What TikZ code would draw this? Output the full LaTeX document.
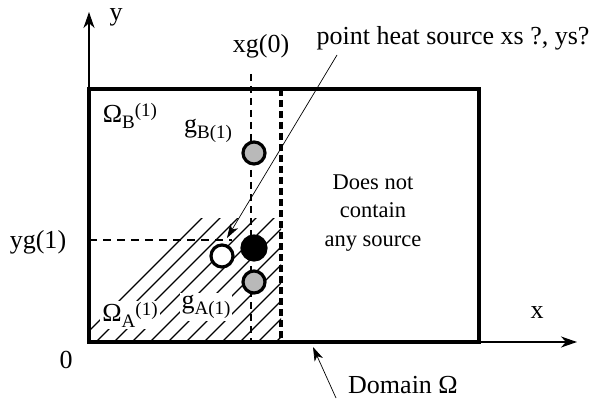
\documentclass[tikz,border=0pt]{standalone}
\usepackage{fontspec}
\setmainfont{Liberation Serif}
\usetikzlibrary{arrows.meta}
\newcommand{\sbsc}[1]{\raisebox{-0.22em}{\fontsize{19}{20}\selectfont #1}}
\newcommand{\spsc}[1]{\raisebox{0.22em}{\fontsize{19}{20}\selectfont #1}}
\begin{document}
\begin{tikzpicture}[x=1pt,y=-1pt,
  lbl/.style={font=\fontsize{26}{28}\selectfont, inner sep=1pt},
  wlbl/.style={lbl, fill=white, inner sep=2pt},
  axis/.style={line width=2pt, -{Stealth[length=16pt,width=11pt,inset=5pt]}},
  src/.style={circle, draw, line width=3.2pt, minimum size=22pt, inner sep=0pt},
  thin/.style={line width=0.7pt}]
\useasboundingbox (0,0) rectangle (607,406);
% corners
\coordinate (O) at (89,342);
\coordinate (TL) at (89,89);
\coordinate (TR) at (479,89);
\coordinate (BR) at (479,342);
\coordinate (ytip) at (89,12);
\coordinate (xtip) at (577,342);
% hatching
\begin{scope}
  \clip (89,218) rectangle (281,342);
  \foreach \k in {0,...,20} {
    \draw[line width=1.3pt] (60+\k*18,360) -- ++(160,-160);
  }
\end{scope}
% dashed lines
\coordinate (xg0) at (251,74);
\coordinate (xg0b) at (251,342);
\draw[line width=2.2pt, dash pattern=on 7pt off 5pt] (xg0) -- (xg0b);
\coordinate (ds) at (281,89);
\coordinate (dsb) at (281,342);
\draw[line width=4pt, dash pattern=on 7pt off 4pt] (ds) -- (dsb);
\coordinate (yg1) at (89,240);
\coordinate (yg1e) at (232,240);
\draw[line width=2pt, dash pattern=on 8pt off 6pt] (yg1) -- (yg1e);
% domain
\draw[line width=4pt] (TL) rectangle (BR);
\draw[axis] (O) -- (ytip);
\draw[axis] (BR) -- (xtip);
% sources
\node[src, fill=gray!55] (gB) at (254,153) {};
\node[src, fill=black, minimum size=24pt] (blk) at (254,248) {};
\node[src, fill=white] (wht) at (222,256) {};
\node[src, fill=gray!55] (gA) at (254,282) {};
% labels
\node[lbl] (ylab) at (116,17) {y};
\node[lbl] (xlab) at (537,313) {x};
\node[lbl] (zero) at (66,360) {0};
\node[lbl] (xg0lab) at (261,46) {xg(0)};
\node[lbl] (yg1lab) at (38,242) {yg(1)};
\node[lbl] (OmB) at (130,116) {Ω\sbsc{B}\spsc{(1)}};
\node[lbl] (gBlab) at (208,131) {g\sbsc{B(1)}};
\node[wlbl] (OmA) at (130,315) {Ω\sbsc{A}\spsc{(1)}};
\node[wlbl] (gAlab) at (206,307) {g\sbsc{A(1)}};
\node[lbl, align=center, font=\fontsize{22.5}{28.5}\selectfont] (none) at (373,213) {Does not\\contain\\any source};
\node[lbl] (ps) at (453,38) {point heat source xs ?, ys?};
\node[lbl] (dom) at (403,385) {Domain Ω};
% pointer arrows
\coordinate (psa) at (337,55);
\coordinate (psb) at (227,238);
\draw[thin, -{Stealth[length=14pt,width=9pt,inset=4pt]}] (psa) -- (psb);
\coordinate (da) at (336,398);
\coordinate (db) at (313,347);
\draw[thin, -{Stealth[length=14pt,width=9pt,inset=4pt]}] (da) -- (db);
\end{tikzpicture}
\end{document}
